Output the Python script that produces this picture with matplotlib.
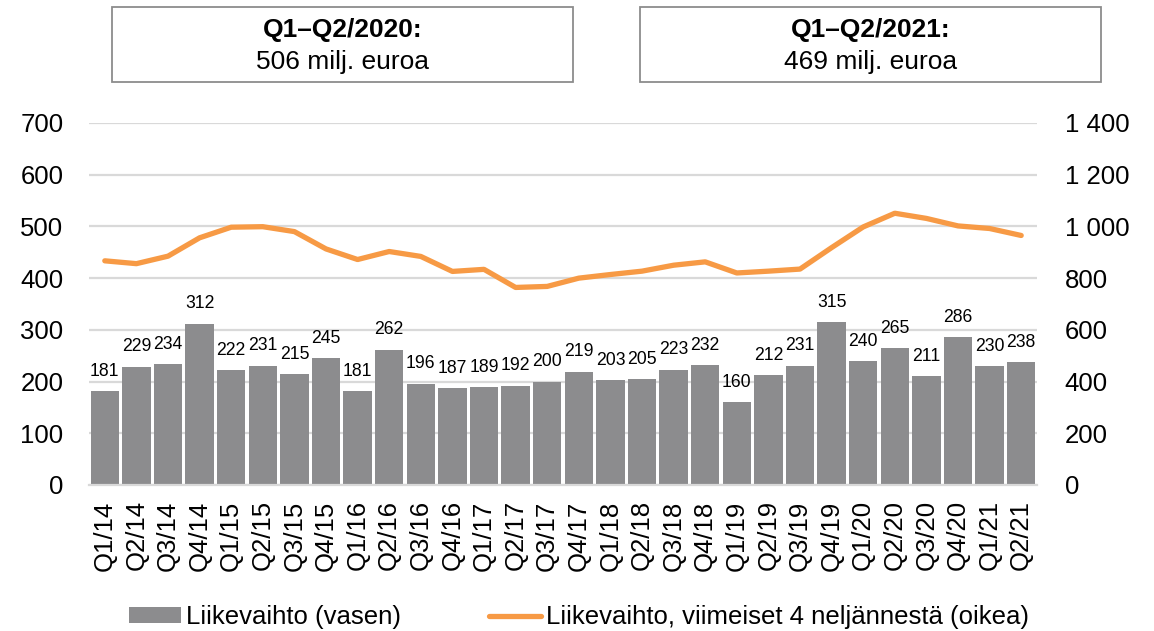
import matplotlib
matplotlib.use("Agg")
import matplotlib.pyplot as plt
from matplotlib.patches import Rectangle
from matplotlib.lines import Line2D

plt.rcParams['font.family'] = ['Liberation Sans', 'DejaVu Sans']

quarters = ["Q1/14", "Q2/14", "Q3/14", "Q4/14", "Q1/15", "Q2/15", "Q3/15", "Q4/15",
            "Q1/16", "Q2/16", "Q3/16", "Q4/16", "Q1/17", "Q2/17", "Q3/17", "Q4/17",
            "Q1/18", "Q2/18", "Q3/18", "Q4/18", "Q1/19", "Q2/19", "Q3/19", "Q4/19",
            "Q1/20", "Q2/20", "Q3/20", "Q4/20", "Q1/21", "Q2/21"]
revenue = [181, 229, 234, 312, 222, 231, 215, 245, 181, 262, 196, 187, 189, 192, 200,
           219, 203, 205, 223, 232, 160, 212, 231, 315, 240, 265, 211, 286, 230, 238]
rolling4 = [867, 856, 885, 956, 997, 999, 980, 913, 872, 903, 884, 826, 834, 764, 768,
            800, 814, 827, 850, 863, 820, 827, 835, 918, 998, 1051, 1031, 1002, 992, 965]
left_ticks = [0, 100, 200, 300, 400, 500, 600, 700]
right_ticks = [0, 200, 400, 600, 800, 1000, 1200, 1400]
right_tick_labels = ["0", "200", "400", "600", "800", "1 000", "1 200", "1 400"]
box_titles = ["Q1–Q2/2020:", "Q1–Q2/2021:"]
box_values = ["506 milj. euroa", "469 milj. euroa"]
legend_labels = ["Liikevaihto (vasen)", "Liikevaihto, viimeiset 4 neljännestä (oikea)"]

bar_color = "#8c8c8e"
line_color = "#f79a45"
grid_color = "#d9d9d9"

W, H = 1154, 631
fig = plt.figure(figsize=(W / 100, H / 100), dpi=100)
ax = fig.add_axes([89 / W, 1 - 485 / H, (1037 - 89) / W, (485 - 123) / H])
ax2 = ax.twinx()

x = list(range(len(quarters)))
ax.bar(x, revenue, width=0.9, color=bar_color, zorder=2)
for xi, v in zip(x, revenue):
    ax.annotate(str(v), xy=(xi, v), xytext=(0, 11), textcoords="offset points",
                ha="center", va="baseline", fontsize=12.7, color="black", zorder=3)

ax.set_ylim(0, 700)
ax.set_xlim(-0.5, len(quarters) - 0.5)
ax.set_yticks(left_ticks)
ax.set_yticklabels([str(t) for t in left_ticks], fontsize=18.5)
ax.set_xticks(x)
ax.set_xticklabels(quarters, rotation=90, fontsize=18.5)
ax.tick_params(axis="both", length=0)
ax.tick_params(axis="y", pad=18.5)
ax.tick_params(axis="x", pad=11)
ax.grid(axis="y", color=grid_color, linewidth=1.6, zorder=0)
ax.set_axisbelow(True)
for s in ["top", "right", "left"]:
    ax.spines[s].set_visible(False)
ax.spines["bottom"].set_color(grid_color)
ax.spines["bottom"].set_linewidth(1.6)

ax2.plot(x, rolling4, color=line_color, linewidth=3.8, solid_capstyle="round", zorder=4)
ax2.set_ylim(0, 1400)
ax2.set_yticks(right_ticks)
ax2.set_yticklabels(right_tick_labels, fontsize=18.5, ha="left")
ax2.tick_params(axis="y", length=0, pad=20)
for s in ["top", "right", "left", "bottom"]:
    ax2.spines[s].set_visible(False)

# Summary boxes
boxes = [(112, 573), (640, 1101)]
for (x0, x1), title, val in zip(boxes, box_titles, box_values):
    fig.patches.append(Rectangle((x0 / W, 1 - 82 / H), (x1 - x0) / W, 75 / H,
                                 transform=fig.transFigure, facecolor="white",
                                 edgecolor="#8c8c8c", linewidth=1.3))
    cx = (x0 + x1) / 2 / W
    fig.text(cx, 1 - 30 / H, title, ha="center", va="center", fontsize=19, fontweight="bold")
    fig.text(cx, 1 - 62 / H, val, ha="center", va="center", fontsize=19)

# Legend
handles = [Rectangle((0, 0), 1, 1, facecolor=bar_color),
           Line2D([0], [0], color=line_color, linewidth=3.8, solid_capstyle="round")]
fig.legend(handles, legend_labels, loc="center", bbox_to_anchor=(579 / W, 1 - 617 / H),
           ncol=2, frameon=False, fontsize=18.5, handlelength=2.05, handletextpad=0.2,
           columnspacing=3.4, handleheight=0.55, borderpad=0, borderaxespad=0)

fig.savefig("out.png", dpi=100)
